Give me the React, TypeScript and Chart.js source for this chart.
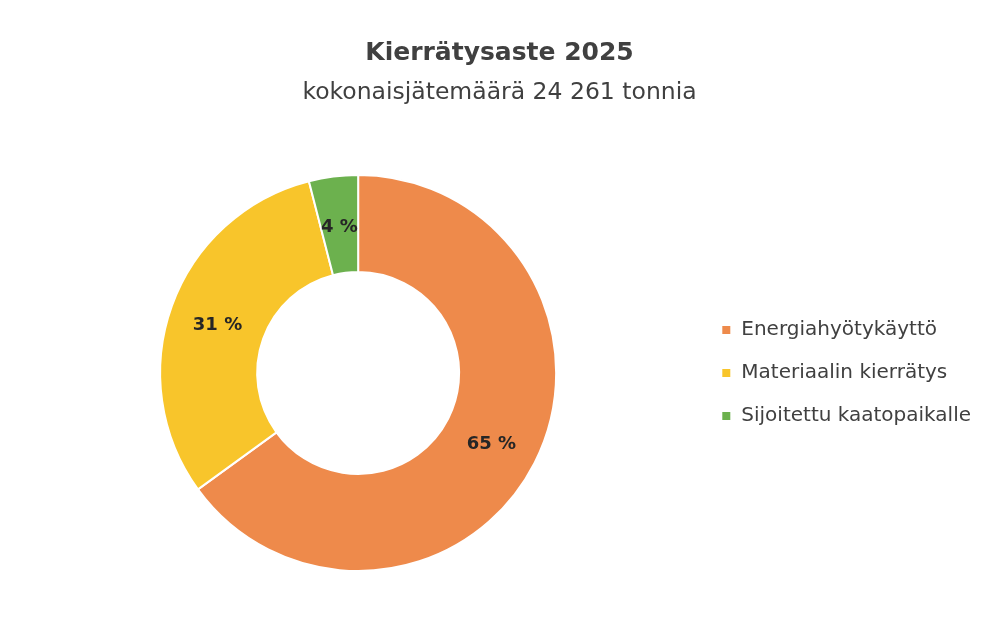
import React, { useEffect, useRef } from "react";
import { Chart, registerables } from "chart.js";

Chart.register(...registerables);

const categories: string[] = ["Energiahyötykäyttö", "Materiaalin kierrätys", "Sijoitettu kaatopaikalle"];
const shares: number[] = [65, 31, 4];
const sliceColors: string[] = ["#EE8A4B", "#F8C52B", "#6CB14E"];
const titleText = "Kierrätysaste 2025";
const subtitleText = "kokonaisjätemäärä 24 261 tonnia";

const FONT = "'DejaVu Sans', sans-serif";

const labelPlugin = {
  id: "sliceLabels",
  afterDatasetsDraw(chart: any) {
    const ctx = chart.ctx;
    const meta = chart.getDatasetMeta(0);
    ctx.save();
    ctx.font = `bold 18px ${FONT}`;
    ctx.fillStyle = "#262626";
    ctx.textAlign = "center";
    ctx.textBaseline = "middle";
    meta.data.forEach((arc: any, i: number) => {
      const p = arc.tooltipPosition();
      ctx.fillText(`${shares[i]} %`, p.x, p.y + 3);
    });
    ctx.restore();
  },
};

export default function App() {
  const ref = useRef<HTMLCanvasElement | null>(null);
  useEffect(() => {
    document.body.style.margin = "0";
    if (!ref.current) return;
    const chart = new Chart(ref.current, {
      type: "doughnut",
      data: {
        labels: categories,
        datasets: [
          {
            data: shares,
            backgroundColor: sliceColors,
            borderColor: "#ffffff",
            borderWidth: 2,
          },
        ],
      },
      options: {
        animation: false,
        responsive: false,
        cutout: "51%",
        layout: { padding: { top: 0, bottom: 55, left: 18, right: 0 } },
        plugins: {
          title: {
            display: true,
            text: titleText,
            color: "#404040",
            font: { family: FONT, size: 25, weight: "bold", lineHeight: 1.2 },
            padding: { top: 38, bottom: 2 },
          },
          subtitle: {
            display: true,
            text: subtitleText,
            color: "#404040",
            font: { family: FONT, size: 23.5, weight: "normal", lineHeight: 1.2 },
            padding: { top: 8.5, bottom: 67.3 },
          },
          legend: {
            position: "right",
            fullSize: false,
            align: "center",
            labels: {
              boxWidth: 10,
              boxHeight: 10,
              padding: 23,
              color: "#404040",
              font: { family: FONT, size: 20 },
            },
          },
          tooltip: { enabled: false },
        },
      },
      plugins: [labelPlugin],
    });
    return () => chart.destroy();
  }, []);
  return (
    <div style={{ position: "fixed", left: 0, top: 0, width: 981, height: 627, background: "#fff" }}>
      <canvas ref={ref} width={981} height={627} />
    </div>
  );
}
